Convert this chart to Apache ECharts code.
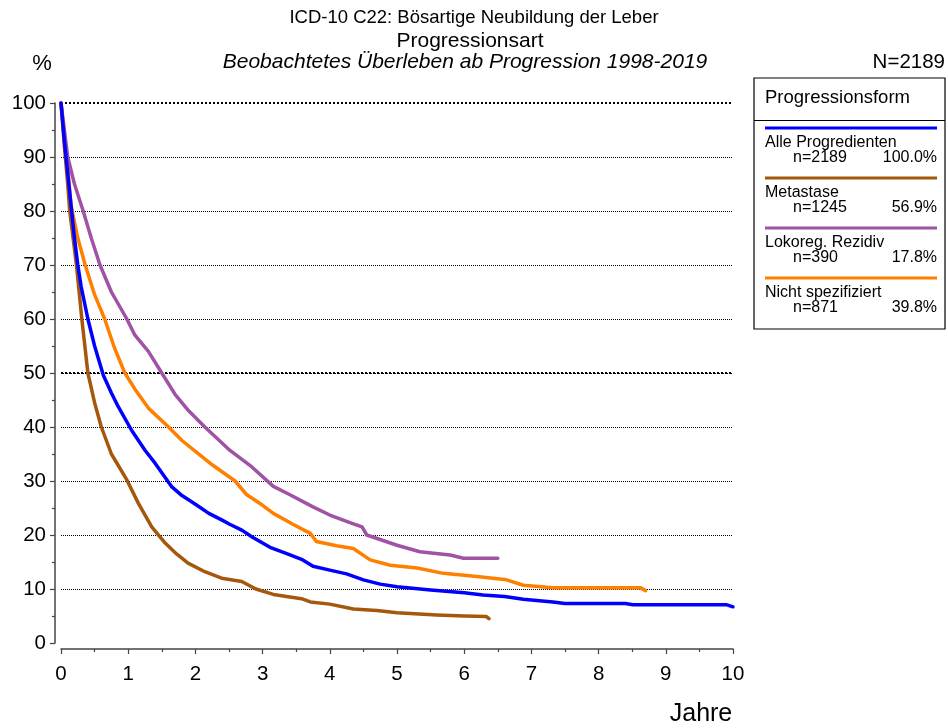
<!DOCTYPE html>
<html><head><meta charset="utf-8">
<script src="https://cdn.jsdelivr.net/npm/echarts@6/dist/echarts.min.js"></script>
<style>html,body{margin:0;padding:0;background:#fff}#c{width:948px;height:728px}</style>
</head><body><div id="c"></div>
<script>
// ---- data ----
const seriesNames = ["Alle Progredienten", "Metastase", "Lokoreg. Rezidiv", "Nicht spezifiziert"];
const seriesN = ["n=2189", "n=1245", "n=390", "n=871"];
const seriesPct = ["100.0%", "56.9%", "17.8%", "39.8%"];
const xTicks = [0,1,2,3,4,5,6,7,8,9,10];
const yTicks = [0,10,20,30,40,50,60,70,80,90,100];

const alle = [[0,100],[0.05,93],[0.1,87],[0.15,81],[0.2,75],[0.25,70],[0.3,66],[0.4,60],[0.5,55],[0.63,49.6],[0.75,46.3],[0.85,43.8],[1.05,39.4],[1.25,35.7],[1.4,33.3],[1.65,28.9],[1.8,27.3],[2.0,25.7],[2.2,24],[2.39,22.8],[2.51,22],[2.69,20.9],[2.85,19.6],[3.13,17.6],[3.35,16.6],[3.58,15.5],[3.75,14.2],[4.0,13.5],[4.25,12.8],[4.5,11.7],[4.75,10.9],[5.0,10.4],[5.5,9.8],[6.0,9.3],[6.28,8.9],[6.6,8.6],[6.88,8.1],[7.32,7.6],[7.5,7.3],[8.4,7.3],[8.51,7.1],[9.9,7.1],[10,6.7]];
const metastase = [[0,100],[0.05,92],[0.1,85],[0.13,80],[0.18,75],[0.23,70],[0.31,60],[0.4,50],[0.5,44.5],[0.6,40],[0.75,35],[0.98,30.2],[1.15,25.9],[1.35,21.5],[1.55,18.5],[1.72,16.5],[1.89,14.8],[2.14,13.2],[2.39,12],[2.69,11.4],[2.9,10],[3.16,9],[3.58,8.2],[3.71,7.6],[4.0,7.2],[4.35,6.3],[4.7,6.0],[5.0,5.6],[5.59,5.2],[6.0,5.0],[6.33,4.9],[6.37,4.5]];
const lokoreg = [[0,100],[0.05,95],[0.1,90],[0.2,85],[0.33,80],[0.45,75],[0.58,70],[0.75,65],[0.98,60],[1.1,57],[1.3,54],[1.5,50],[1.7,46],[1.9,43],[2.14,40],[2.4,37],[2.51,35.7],[2.84,32.6],[3.16,29],[3.4,27.5],[3.75,25.2],[4.0,23.7],[4.3,22.3],[4.48,21.5],[4.55,20],[5.0,18.1],[5.34,16.9],[5.79,16.3],[5.99,15.7],[6.5,15.7]];
const nichtSpez = [[0,100],[0.05,94],[0.1,88],[0.15,81],[0.25,75],[0.36,70],[0.5,64.5],[0.65,60],[0.8,54.5],[0.95,50],[1.1,47],[1.3,43.5],[1.6,40],[1.8,37.5],[2.0,35.5],[2.25,33],[2.59,30],[2.76,27.5],[3.0,25.5],[3.16,24],[3.45,22],[3.71,20.3],[3.8,18.8],[4.1,18],[4.35,17.5],[4.6,15.4],[4.9,14.4],[5.3,13.9],[5.69,12.9],[6.19,12.3],[6.63,11.7],[6.88,10.7],[7.32,10.25],[8.62,10.25],[8.7,9.7]];
const seriesData = [alle, metastase, lokoreg, nichtSpez];
const colors = ["#0000ff", "#a5580c", "#a052a4", "#ff8000"];

const FONT = "'Liberation Sans', Arial, sans-serif";
const chart = echarts.init(document.getElementById('c'), null, {renderer:'canvas'});

// legend graphics
const g = [];
const boxL = 754, boxT = 78, boxR = 945, boxB = 329;
g.push({type:'rect', shape:{x:boxL, y:boxT, width:boxR-boxL, height:boxB-boxT}, style:{fill:'#fff', stroke:'#000', lineWidth:1.2}});
g.push({type:'line', shape:{x1:boxL, y1:120.5, x2:boxR, y2:120.5}, style:{stroke:'#000', lineWidth:1.2}});
g.push({type:'text', x:765, y:98, style:{text:'Progressionsform', font:'18.5px '+FONT, fill:'#000', textVerticalAlign:'middle'}});
seriesNames.forEach((nm,i)=>{
  const y0 = 128 + i*50;
  g.push({type:'line', shape:{x1:765, y1:y0, x2:937, y2:y0}, style:{stroke:colors[i], lineWidth:3}});
  g.push({type:'text', x:765, y:y0+15, style:{text:nm, font:'16px '+FONT, fill:'#000', textVerticalAlign:'middle'}});
  g.push({type:'text', x:793, y:y0+30, style:{text:seriesN[i], font:'16px '+FONT, fill:'#000', textVerticalAlign:'middle'}});
  g.push({type:'text', x:937, y:y0+30, style:{text:seriesPct[i], font:'16px '+FONT, fill:'#000', textAlign:'right', textVerticalAlign:'middle'}});
});
// titles
g.push({type:'text', x:474, y:18, style:{text:'ICD-10 C22: Bösartige Neubildung der Leber', font:'18.5px '+FONT, fill:'#000', textAlign:'center', textVerticalAlign:'middle'}});
g.push({type:'text', x:470, y:41, style:{text:'Progressionsart', font:'21px '+FONT, fill:'#000', textAlign:'center', textVerticalAlign:'middle'}});
g.push({type:'text', x:465, y:62, style:{text:'Beobachtetes Überleben ab Progression 1998-2019', font:'italic 21px '+FONT, fill:'#000', textAlign:'center', textVerticalAlign:'middle'}});
g.push({type:'text', x:42, y:64, style:{text:'%', font:'22px '+FONT, fill:'#000', textAlign:'center', textVerticalAlign:'middle'}});
g.push({type:'text', x:945, y:62, style:{text:'N=2189', font:'20.5px '+FONT, fill:'#000', textAlign:'right', textVerticalAlign:'middle'}});
g.push({type:'text', x:701, y:714, style:{text:'Jahre', font:'25px '+FONT, fill:'#000', textAlign:'center', textVerticalAlign:'middle'}});

const series = seriesData.map((d,i)=>({
  type:'line', name:seriesNames[i], data:d, showSymbol:false, symbol:'none',
  lineStyle:{color:colors[i], width:3.5, join:'round', cap:'round'}, itemStyle:{color:colors[i]},
  z: 10 - i, silent:true, animation:false
}));
series.push({type:'line', data:[], markLine:{silent:true, symbol:'none', label:{show:false},
  lineStyle:{color:'#000', type:'dotted', width:2}, data:[{yAxis:50},{yAxis:100}]}, animation:false});

chart.setOption({
  animation:false,
  backgroundColor:'#fff',
  grid:{left:61, right:215, top:103, bottom:85, containLabel:false},
  xAxis:{type:'value', min:xTicks[0], max:xTicks[xTicks.length-1], interval:1, offset:6,
    axisLine:{show:true, onZero:false, lineStyle:{color:'#444', width:1.5}},
    axisTick:{show:true, length:5, lineStyle:{color:'#444', width:1.2}},
    minorTick:{show:true, splitNumber:2, length:3, lineStyle:{color:'#444', width:1.2}},
    axisLabel:{margin:15, fontSize:20.5, color:'#000', fontFamily:FONT},
    splitLine:{show:false}},
  yAxis:{type:'value', min:yTicks[0], max:yTicks[yTicks.length-1], interval:10, offset:6,
    axisLine:{show:true, onZero:false, lineStyle:{color:'#444', width:1.5}},
    axisTick:{show:true, length:5, lineStyle:{color:'#444', width:1.2}},
    minorTick:{show:true, splitNumber:2, length:3, lineStyle:{color:'#444', width:1.2}},
    axisLabel:{margin:9, fontSize:20.5, color:'#000', fontFamily:FONT},
    splitLine:{show:true, showMinLine:false, showMaxLine:false, lineStyle:{color:'#000', type:'dotted', width:1}}},
  series: series,
  graphic: g
});
</script></body></html>
